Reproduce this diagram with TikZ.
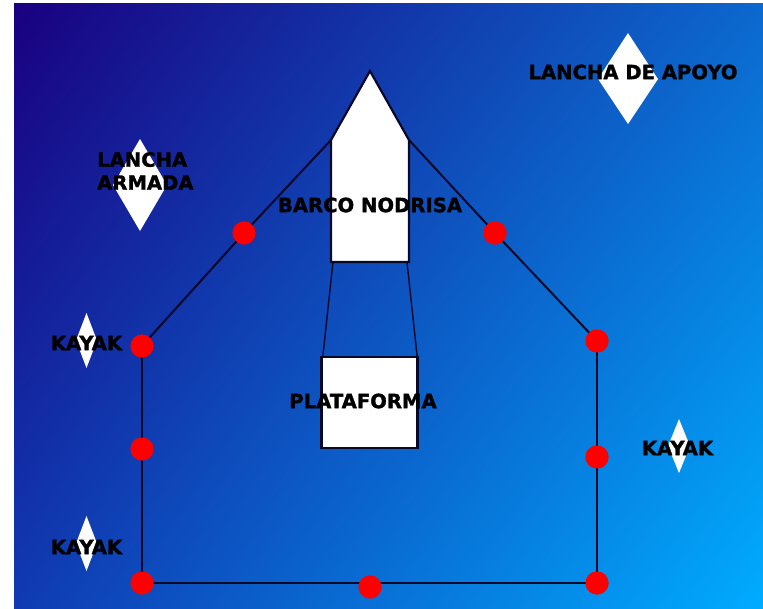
\documentclass[tikz,border=0pt]{standalone}
\usepackage{fontspec}
\setmainfont{DejaVu Sans}[BoldFeatures={FakeBold=1.5}]
\usetikzlibrary{shadings}
\definecolor{bgul}{RGB}{26,0,128}
\definecolor{bgur}{RGB}{12,104,206}
\definecolor{bgll}{RGB}{16,58,178}
\definecolor{bglr}{RGB}{0,172,255}
\definecolor{ink}{RGB}{8,8,40}
\begin{document}
\begin{tikzpicture}[x=1pt,y=-1pt,
  lbl/.style={font=\bfseries\fontsize{19.6}{23}\selectfont, text=black, inner sep=0pt},
  dot/.style={circle, fill=red, draw=none, minimum size=23pt, inner sep=0pt},
  wire/.style={draw=ink, line width=2pt},
  frame/.style={draw=ink, line width=2.8pt},
  whiteshape/.style={fill=white, draw=none}
]
\useasboundingbox (0,0) rectangle (763,608);
\fill[white] (0,0) rectangle (763,608);
\shade[upper left=bgul, upper right=bgur, lower left=bgll, lower right=bglr]
  (14,3) rectangle (763,608);

% diamonds
\path[whiteshape] (140,139) -- (167,185) -- (140,231) -- (113,185) -- cycle;
\path[whiteshape] (628,33) -- (658,79) -- (628,124) -- (598,79) -- cycle;
\path[whiteshape] (86.5,313) -- (97,340.5) -- (86.5,368) -- (76,340.5) -- cycle;
\path[whiteshape] (86.5,516) -- (97,543.5) -- (86.5,571) -- (76,543.5) -- cycle;
\path[whiteshape] (679,419) -- (690,446) -- (679,473) -- (668,446) -- cycle;

% boat
\coordinate (apex) at (370,71);
\coordinate (bsl) at (331,140);
\coordinate (bsr) at (409,140);
\coordinate (bbl) at (331,262);
\coordinate (bbr) at (409,262);

% dots (positions)
\node[dot] (d1) at (244,233) {};
\node[dot] (d2) at (495,233) {};
\node[dot] (d3) at (142,346) {};
\node[dot] (d4) at (597,341) {};
\node[dot] (d5) at (142,449) {};
\node[dot] (d6) at (597,457) {};
\node[dot] (d7) at (142,583) {};
\node[dot] (d8) at (370,587) {};
\node[dot] (d9) at (597,583) {};

% platform
\node[draw=ink, line width=2.2pt, fill=white, minimum width=96pt, minimum height=91pt, inner sep=0pt] (plat) at (369.5,402.5) {};

% connectors
\draw[wire] (bsl) -- (d1.center) -- (d3.center);
\draw[wire] (bsr) -- (d2.center) -- (d4.center);
\draw[frame] (d3.center) -- (d5.center) -- (d7.center) -- (d9.center) -- (d6.center) -- (d4.center);
\draw[draw=ink, line width=1.4pt] ([xshift=2pt]bbl) -- ([xshift=2.5pt]plat.north west);
\draw[draw=ink, line width=1.4pt] ([xshift=-2pt]bbr) -- ([xshift=-1.5pt]plat.north east);

\draw[whiteshape, draw=ink, line width=2.2pt] (apex) -- (bsr) -- (bbr) -- (bbl) -- (bsl) -- cycle;

\foreach \n in {d1,d2,d3,d4,d5,d6,d7,d8,d9} \fill[red] (\n) circle (11.5pt);

% labels
\node[lbl, align=left, anchor=north west] (la) at (97,152) {LANCHA\\ARMADA};
\node[lbl] (lap) at (633,72) {LANCHA DE APOYO};
\node[lbl] (bn) at (370,205) {BARCO NODRISA};
\node[lbl] (pl) at (363,401) {PLATAFORMA};
\node[lbl] (k1) at (86.5,343) {KAYAK};
\node[lbl] (k2) at (86.5,547) {KAYAK};
\node[lbl] (k3) at (677.5,448) {KAYAK};
\end{tikzpicture}
\end{document}
